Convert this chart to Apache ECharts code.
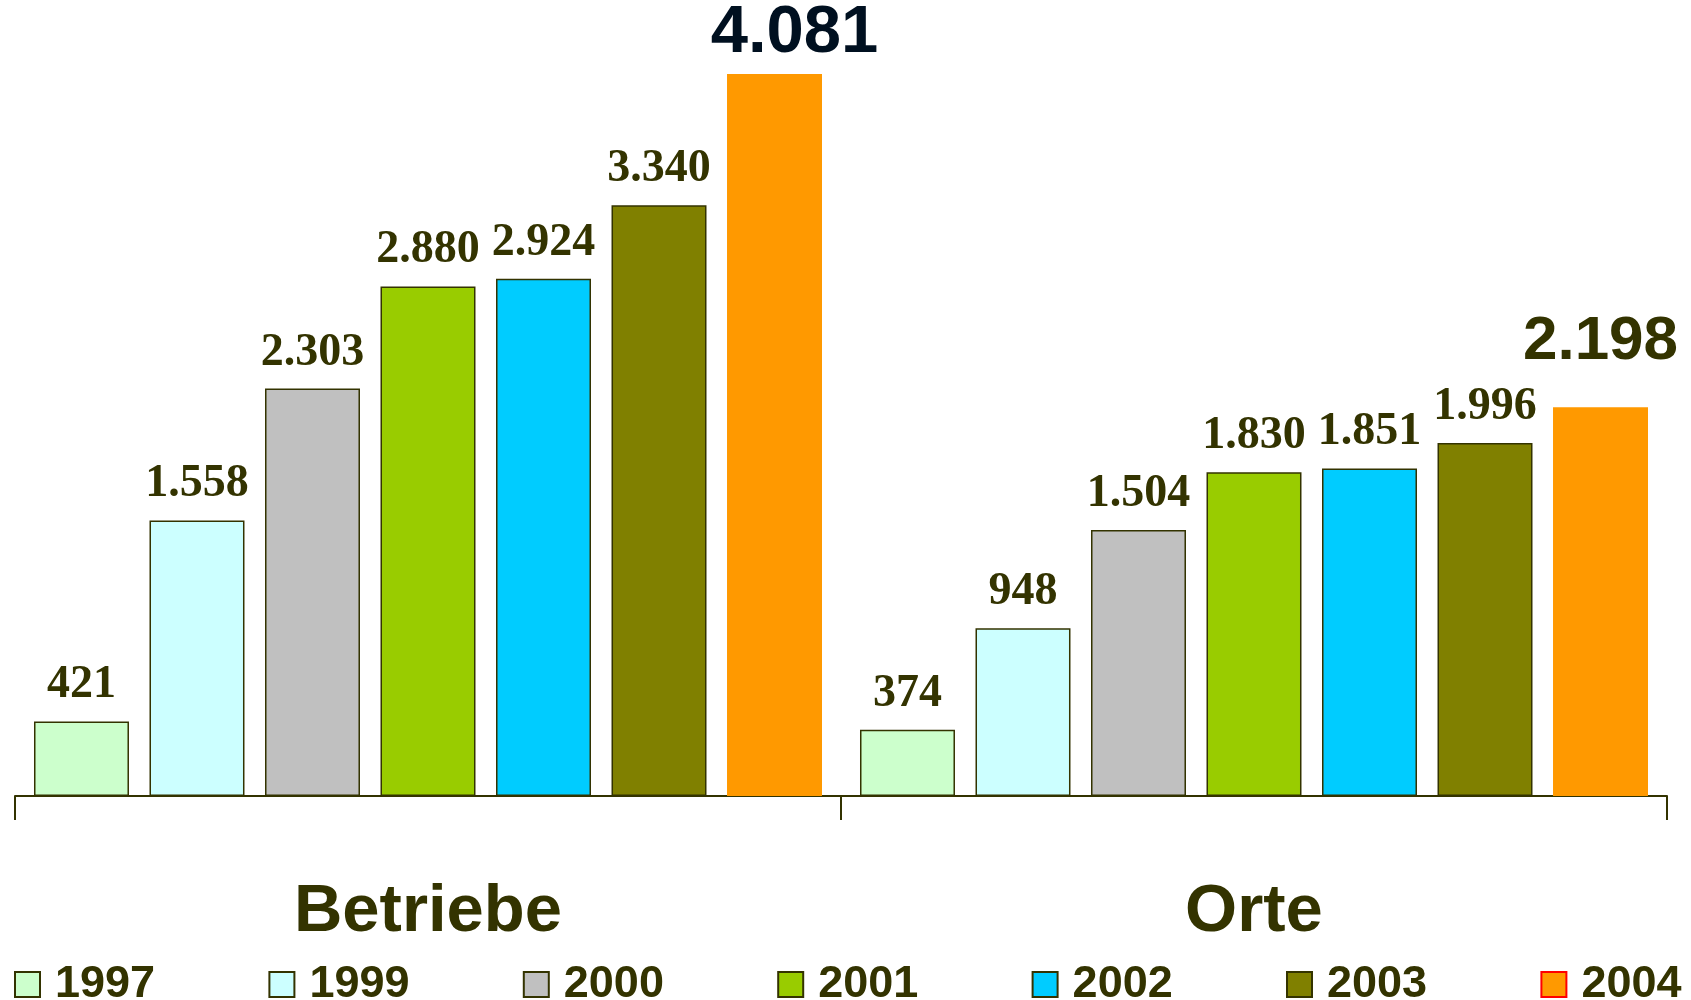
<!DOCTYPE html>
<html>
<head>
<meta charset="utf-8">
<script src="https://cdn.jsdelivr.net/npm/echarts@6/dist/echarts.min.js"></script>
<style>
  html, body { margin: 0; padding: 0; background: #fff; }
  #chart { width: 1691px; height: 1000px; }
</style>
</head>
<body>
<div id="chart"></div>
<script>
// categories and series
var categories = ['Betriebe', 'Orte'];
var years = ['1997', '1999', '2000', '2001', '2002', '2003', '2004'];
var v1997 = [421, 374];
var v1999 = [1558, 948];
var v2000 = [2303, 1504];
var v2001 = [2880, 1830];
var v2002 = [2924, 1851];
var v2003 = [3340, 1996];
var v2004 = [4081, 2198];
var values = [v1997, v1999, v2000, v2001, v2002, v2003, v2004];
var colors = ['#CCFFCC', '#CCFFFF', '#C0C0C0', '#99CC00', '#00CCFF', '#808000', '#FF9900'];

var olive = '#333300';

function fmt(n) {
  var s = String(n);
  if (s.length > 3) s = s.slice(0, s.length - 3) + '.' + s.slice(s.length - 3);
  return s;
}

var chart = echarts.init(document.getElementById('chart'));

var series = years.map(function (y, i) {
  var last = i === years.length - 1;
  var data = values[i].map(function (v, j) {
    if (!last) return v;
    return {
      value: v,
      label: {
        fontFamily: 'Liberation Sans, Arial, sans-serif',
        fontWeight: 'bold',
        fontSize: j === 0 ? 67 : 62,
        lineHeight: j === 0 ? 67 : 62,
        color: j === 0 ? '#001020' : olive,
        distance: j === 0 ? 7 : 34,
        offset: j === 0 ? [20, 0] : [0, 0]
      }
    };
  });
  return {
    name: y,
    type: 'bar',
    data: data,
    barGap: '21.6%',
    barCategoryGap: '4.6%',
    itemStyle: {
      color: colors[i],
      borderColor: last ? colors[i] : olive,
      borderWidth: last ? 0 : 1.5
    },
    label: {
      show: true,
      position: 'top',
      distance: 13,
      fontFamily: 'Liberation Serif, Times New Roman, serif',
      fontWeight: 'bold',
      fontSize: 46,
      lineHeight: 46,
      color: olive,
      formatter: function (p) { return fmt(p.value); }
    },
    emphasis: { disabled: true }
  };
});

var legendData = years.map(function (y, i) {
  return {
    name: y,
    itemStyle: {
      color: colors[i],
      borderColor: i === years.length - 1 ? '#FF0000' : olive,
      borderWidth: 2
    }
  };
});

var option = {
  animation: false,
  grid: { left: 15, right: 24, top: 0, bottom: 204 },
  legend: {
    data: legendData,
    left: 14,
    top: 962,
    width: 2000,
    padding: 0,
    icon: 'rect',
    itemWidth: 25,
    itemHeight: 25,
    itemGap: 0,
    selectedMode: false,
    textStyle: {
      fontFamily: 'Liberation Sans, Arial, sans-serif',
      fontWeight: 'bold',
      fontSize: 45,
      lineHeight: 44,
      color: olive,
      width: 213.4,
      padding: [0, 0, 0, 10]
    }
  },
  xAxis: {
    type: 'category',
    data: categories,
    axisLine: { show: true, lineStyle: { color: olive, width: 2 } },
    axisTick: { show: true, length: 24, lineStyle: { color: olive, width: 2 } },
    axisLabel: {
      margin: 83,
      fontFamily: 'Liberation Sans, Arial, sans-serif',
      fontWeight: 'bold',
      fontSize: 67,
      lineHeight: 67,
      color: olive
    }
  },
  yAxis: {
    type: 'value',
    min: 0,
    max: 4500,
    show: false,
    splitLine: { show: false }
  },
  series: series
};

chart.setOption(option);
</script>
</body>
</html>
